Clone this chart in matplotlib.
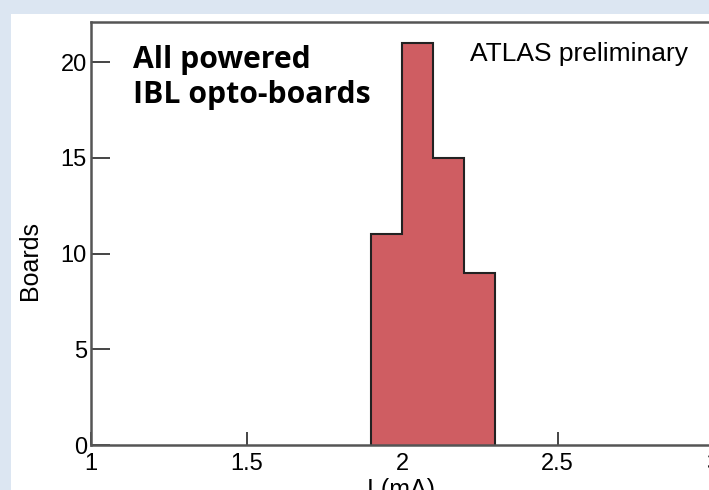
import numpy as np
import matplotlib
matplotlib.use("Agg")
import matplotlib.pyplot as plt
from matplotlib.patches import Rectangle

# optical board current histogram
bin_edges = [1.9, 2.0, 2.1, 2.2, 2.3]
board_counts = [11, 21, 15, 9]
x_ticks = [1, 1.5, 2, 2.5, 3]
x_tick_labels = ["1", "1.5", "2", "2.5", "3"]
y_ticks = [0, 5, 10, 15, 20]

W, H = 709, 490
fig = plt.figure(figsize=(W / 100, H / 100), dpi=100)
fig.patch.set_facecolor("#dce6f2")

# white slide panel behind the plot
fig.patches.append(Rectangle((11 / W, 0), 1 - 11 / W, 1 - 14 / H,
                             transform=fig.transFigure, facecolor="white",
                             edgecolor="none", zorder=-5))

left, right, top, bottom = 91, 713, 22, 445
ax = fig.add_axes([left / W, 1 - bottom / H, (right - left) / W, (bottom - top) / H])
ax.set_facecolor("white")

ax.stairs(board_counts, bin_edges, fill=True, facecolor="#cf5d62",
          edgecolor="#222222", linewidth=1.5, zorder=2)

ax.set_xlim(1, 3)
ax.set_ylim(0, 22.1)
ax.set_xticks(x_ticks)
ax.set_xticklabels(x_tick_labels)
ax.set_yticks(y_ticks)

for s in ax.spines.values():
    s.set_color("#555555")
    s.set_linewidth(1.8)
    s.set_zorder(3)

ax.tick_params(axis="y", direction="in", length=14, width=1.4, color="#444444",
               labelsize=17, pad=3)
ax.tick_params(axis="x", direction="in", length=9.5, width=1.4, color="#444444",
               labelsize=17, pad=6)
for lab in ax.get_xticklabels() + ax.get_yticklabels():
    lab.set_family("Liberation Sans")

fig.text(30 / W, 1 - 261 / H, "Boards", rotation=90, ha="center", va="center",
         fontsize=18, family="Liberation Sans")
fig.text(401 / W, 1 - 478 / H, "I (mA)", ha="center", va="top",
         fontsize=18, family="Liberation Sans")

fig.text(133 / W, 1 - 68 / H, "All powered", ha="left", va="baseline",
         fontsize=21.7, fontweight="bold", family="Open Sans")
fig.text(133 / W, 1 - 103 / H, "IBL opto-boards", ha="left", va="baseline",
         fontsize=21.7, fontweight="bold", family="Open Sans")
fig.text(470 / W, 1 - 61 / H, "ATLAS preliminary", ha="left", va="baseline",
         fontsize=19, family="Liberation Sans")

fig.savefig("out.png", dpi=100, facecolor=fig.get_facecolor())
